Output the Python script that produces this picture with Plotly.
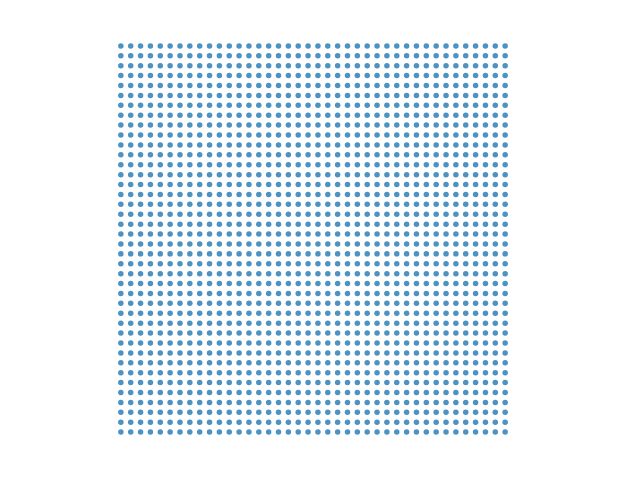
import plotly.graph_objects as go

# Grid levels (40 columns x 40 rows)
x_levels = [0, 1, 2, 3, 4, 5, 6, 7, 8, 9, 10, 11, 12, 13, 14, 15, 16, 17, 18, 19,
            20, 21, 22, 23, 24, 25, 26, 27, 28, 29, 30, 31, 32, 33, 34, 35, 36, 37, 38, 39]
y_levels = [0, 1, 2, 3, 4, 5, 6, 7, 8, 9, 10, 11, 12, 13, 14, 15, 16, 17, 18, 19,
            20, 21, 22, 23, 24, 25, 26, 27, 28, 29, 30, 31, 32, 33, 34, 35, 36, 37, 38, 39]

xs = [x for y in y_levels for x in x_levels]
ys = [y for y in y_levels for x in x_levels]

fig = go.Figure(go.Scatter(
    x=xs, y=ys, mode="markers",
    marker=dict(size=5.5, color="#1f77b4", opacity=0.8, line=dict(width=0)),
    hoverinfo="skip",
))
fig.update_layout(
    width=640, height=480,
    margin=dict(l=111, r=125, t=36, b=38),
    paper_bgcolor="white", plot_bgcolor="white",
    showlegend=False,
    xaxis=dict(range=[-1, 40], visible=False),
    yaxis=dict(range=[-1, 40], visible=False),
)
fig.write_html("out.html")
